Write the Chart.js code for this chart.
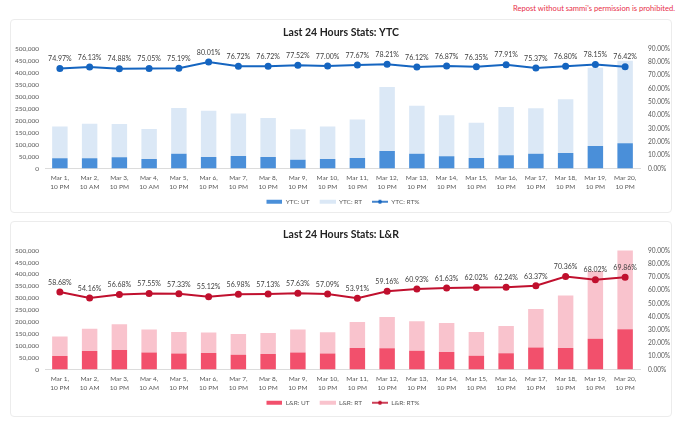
<!DOCTYPE html>
<html lang="en">
<head>
  <meta charset="UTF-8" />
  <title>Last 24 Hours Stats</title>
  <script src="https://cdn.jsdelivr.net/npm/chart.js"></script>
  <style>
    body { margin: 0; background: #fff; font-family: Lato, sans-serif; }
    .note { position: absolute; right: 5px; top: 3px; font-size: 7.6px; color: #e8304a; }
    .panel { position: absolute; left: 10px; width: 662px; border: 1px solid #ececec; border-radius: 4px; box-sizing: border-box; }
    #p1 { top: 19px; height: 194px; }
    #p2 { top: 221px; height: 196px; }
    .box { position: absolute; left: 11px; width: 660px; }
    #b1 { top: 20px; height: 195px; }
    #b2 { top: 222px; height: 194px; }
  </style>
</head>
<body>
  <div class="note">Repost without sammi's permission is prohibited.</div>
  <div class="panel" id="p1"></div>
  <div class="panel" id="p2"></div>
  <div class="box" id="b1"><canvas id="ytc"></canvas></div>
  <div class="box" id="b2"><canvas id="lr"></canvas></div>

  <script>
    const labels = [
      ['Mar 1,', '10 PM'], ['Mar 2,', '10 AM'], ['Mar 3,', '10 PM'], ['Mar 4,', '10 AM'],
      ['Mar 5,', '10 PM'], ['Mar 6,', '10 PM'], ['Mar 7,', '10 PM'], ['Mar 8,', '10 PM'],
      ['Mar 9,', '10 PM'], ['Mar 10,', '10 PM'], ['Mar 11,', '10 PM'], ['Mar 12,', '10 PM'],
      ['Mar 13,', '10 PM'], ['Mar 14,', '10 PM'], ['Mar 15,', '10 PM'], ['Mar 16,', '10 PM'],
      ['Mar 17,', '10 PM'], ['Mar 18,', '10 PM'], ['Mar 19,', '10 PM'], ['Mar 20,', '10 PM']
    ];

    // YTC
    const ytcUT = [43000, 43000, 47000, 40000, 61000, 48000, 52000, 48000, 36000, 40000,
                   44000, 73000, 61000, 51000, 44000, 55000, 61000, 65000, 94000, 105000];
    const ytcRT = [132000, 144000, 139000, 125000, 191000, 193000, 177000, 163000, 128000, 135000,
                   160000, 267000, 201000, 171000, 147000, 201000, 190000, 224000, 326000, 344000];
    const ytcPct = [74.97, 76.13, 74.88, 75.05, 75.19, 80.01, 76.72, 76.72, 77.52, 77.00,
                    77.67, 78.21, 76.12, 76.87, 76.35, 77.91, 75.37, 76.80, 78.15, 76.42];

    // L&R
    const lrUT = [57000, 78000, 82000, 71000, 67000, 69000, 62000, 65000, 71000, 67000,
                  90000, 89000, 79000, 74000, 58000, 68000, 92000, 90000, 129000, 169000];
    const lrRT = [82000, 93000, 108000, 97000, 91000, 87000, 87000, 88000, 97000, 90000,
                  110000, 132000, 124000, 122000, 100000, 115000, 162000, 221000, 285000, 390000];
    const lrPct = [58.68, 54.16, 56.68, 57.55, 57.33, 55.12, 56.98, 57.13, 57.63, 57.09,
                   53.91, 59.16, 60.93, 61.63, 62.02, 62.24, 63.37, 70.36, 68.02, 69.86];

    const FONT = 'Lato, sans-serif';
    const GREY = '#595959';

    // legend icons: bar = thin block, line = line with a dot (4px blank on the left for spacing)
    function legendIcon(color, isLine) {
      const c = document.createElement('canvas');
      c.width = 20; c.height = 8;
      const g = c.getContext('2d');
      g.fillStyle = color;
      if (isLine) {
        g.strokeStyle = color; g.lineWidth = 1.6;
        g.beginPath(); g.moveTo(4, 4); g.lineTo(20, 4); g.stroke();
        g.beginPath(); g.arc(12, 4, 2, 0, Math.PI * 2); g.fill();
      } else {
        g.fillRect(4, 2, 16, 4);
      }
      return c;
    }

    const pctLabels = {
      id: 'pctLabels',
      afterDatasetsDraw(chart) {
        const ctx = chart.ctx;
        const meta = chart.getDatasetMeta(2);
        const data = chart.data.datasets[2].data;
        ctx.save();
        ctx.font = '7px ' + FONT;
        ctx.fillStyle = '#404040';
        ctx.textAlign = 'center';
        ctx.textBaseline = 'bottom';
        meta.data.forEach((pt, i) => {
          ctx.fillText(data[i].toFixed(2) + '%', pt.x, pt.y - 6);
        });
        ctx.restore();
      }
    };

    function makeChart(id, name, ut, rt, pct, cols) {
      new Chart(document.getElementById(id), {
        type: 'bar',
        data: {
          labels: labels,
          datasets: [
            { label: name + ': UT', data: ut, backgroundColor: cols[0], stack: 's', yAxisID: 'y', order: 2 },
            { label: name + ': RT', data: rt, backgroundColor: cols[1], stack: 's', yAxisID: 'y', order: 2 },
            { label: name + ': RT%', type: 'line', data: pct, borderColor: cols[2], backgroundColor: cols[2],
              borderWidth: 2, pointRadius: 2.5, pointHoverRadius: 2.5, yAxisID: 'y2', order: 0, tension: 0 }
          ]
        },
        options: {
          responsive: true,
          maintainAspectRatio: false,
          animation: false,
          layout: { padding: 0 },
          datasets: { bar: { categoryPercentage: 1, barPercentage: 0.52 } },
          plugins: {
            title: {
              display: true,
              text: 'Last 24 Hours Stats: ' + name,
              color: '#222',
              font: { family: FONT, size: 10.5, weight: 'bold' },
              padding: { top: 6.7, bottom: 9.3 }
            },
            legend: {
              position: 'bottom',
              labels: {
                color: GREY,
                font: { family: FONT, size: 6.5 },
                usePointStyle: true,
                pointStyleWidth: 20,
                boxHeight: 6,
                padding: 6,
                generateLabels(chart) {
                  const items = Chart.defaults.plugins.legend.labels.generateLabels(chart);
                  items.forEach(it => {
                    it.pointStyle = legendIcon(cols[it.datasetIndex], it.datasetIndex === 2);
                  });
                  return items.sort((a, b) => a.datasetIndex - b.datasetIndex);
                }
              }
            },
            tooltip: { enabled: false }
          },
          scales: {
            x: {
              stacked: true,
              grid: { display: false, drawTicks: false },
              border: { color: '#dcdcdc' },
              afterFit(s) { s.height = 24; },
              ticks: { color: GREY, font: { family: FONT, size: 6.5, lineHeight: 1.35 }, maxRotation: 0, autoSkip: false, padding: 5.5 }
            },
            y: {
              stacked: true,
              min: 0, max: 500000,
              grid: { display: false, drawTicks: false },
              border: { display: false },
              afterFit(s) { s.width = 34; },
              ticks: {
                stepSize: 50000, color: GREY, font: { family: FONT, size: 6.5 }, padding: 6,
                callback: v => v.toLocaleString('en-US')
              }
            },
            y2: {
              position: 'right',
              min: 0, max: 90,
              grid: { display: false, drawTicks: false },
              border: { display: false },
              afterFit(s) { s.width = 31; },
              ticks: {
                stepSize: 10, color: GREY, font: { family: FONT, size: 6.6 }, padding: 8,
                callback: v => v.toFixed(2) + '%'
              }
            }
          }
        },
        plugins: [pctLabels]
      });
    }

    makeChart('ytc', 'YTC', ytcUT, ytcRT, ytcPct, ['#4a8fd9', '#dbe8f6', '#1565c0']);
    makeChart('lr', 'L&R', lrUT, lrRT, lrPct, ['#f2506c', '#f9c3cd', '#c0102e']);
  </script>
</body>
</html>
